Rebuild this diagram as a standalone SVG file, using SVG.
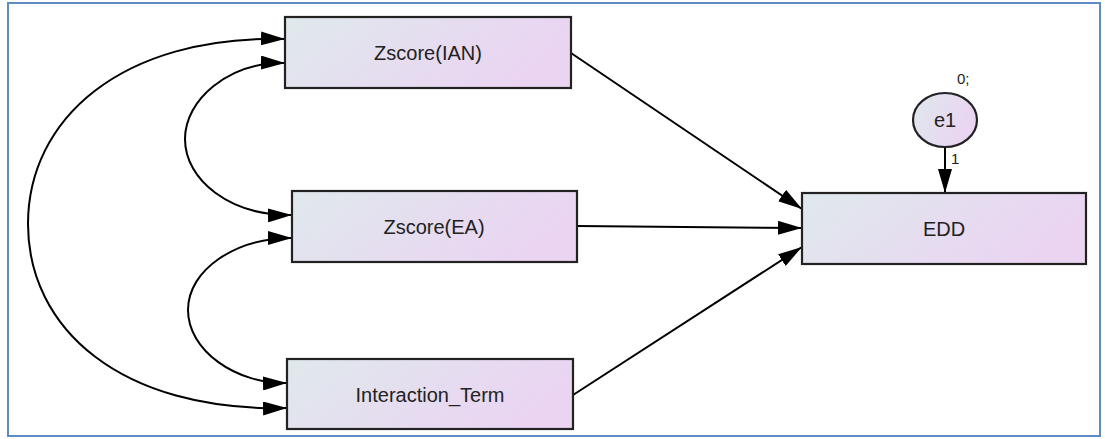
<svg xmlns="http://www.w3.org/2000/svg" width="1105" height="439" viewBox="0 0 1105 439">
<defs>
<linearGradient id="g" x1="0" y1="0" x2="1" y2="0.3">
<stop offset="0" stop-color="#dfe9ec"/>
<stop offset="0.6" stop-color="#e6dcf0"/>
<stop offset="1" stop-color="#ead4f2"/>
</linearGradient>
<marker id="ah" markerUnits="userSpaceOnUse" markerWidth="26" markerHeight="14" refX="24" refY="7" orient="auto-start-reverse">
<path d="M0,0 L24,7 L0,14 Z" fill="#000"/>
</marker>
<style>
.box{fill:url(#g);stroke:#222;stroke-width:2.2}
.lbl{font-family:"Liberation Sans",Arial,sans-serif;font-size:20px;fill:#222;text-anchor:middle;dominant-baseline:central}
.sm{font-family:"Liberation Sans",Arial,sans-serif;font-size:15px;fill:#222}
.c{fill:none;stroke:#000;stroke-width:2;marker-end:url(#ah)}
.cv{fill:none;stroke:#000;stroke-width:2;marker-start:url(#ah);marker-end:url(#ah)}
</style>
</defs>
<rect x="8" y="3" width="1092" height="433" fill="#fff" stroke="#5b8cc8" stroke-width="2"/>
<g id="connectors">
<path class="cv" d="M285,39 C120,35 28,120 28,224 C28,328 120,412 287,408"/>
<path class="cv" d="M285,63 C228,62 185,100 185,139 C185,180 230,216 292,215"/>
<path class="cv" d="M292,238 C235,238 188,270 188,310 C188,350 235,384 287,383"/>
<path class="c" d="M571,53 L802,209"/>
<path class="c" d="M577,226 L802,228"/>
<path class="c" d="M573,395 L802,247"/>
<path class="c" d="M945,148 L945,193"/>
<text class="sm" x="951" y="164">1</text>
</g>
<g id="node-ian">
<rect class="box" x="285" y="17" width="286" height="71"/>
<text class="lbl" x="428" y="53">Zscore(IAN)</text>
</g>
<g id="node-ea">
<rect class="box" x="292" y="191" width="285" height="71"/>
<text class="lbl" x="434" y="227">Zscore(EA)</text>
</g>
<g id="node-interaction">
<rect class="box" x="287" y="359" width="286" height="70"/>
<text class="lbl" x="430" y="395">Interaction_Term</text>
</g>
<g id="node-edd">
<rect class="box" x="802" y="193" width="284" height="71"/>
<text class="lbl" x="944" y="229">EDD</text>
</g>
<g id="node-e1">
<ellipse class="box" cx="945" cy="120" rx="32" ry="27"/>
<text class="lbl" x="945" y="120">e1</text>
<text class="sm" x="957" y="84">0;</text>
</g>
</svg>
